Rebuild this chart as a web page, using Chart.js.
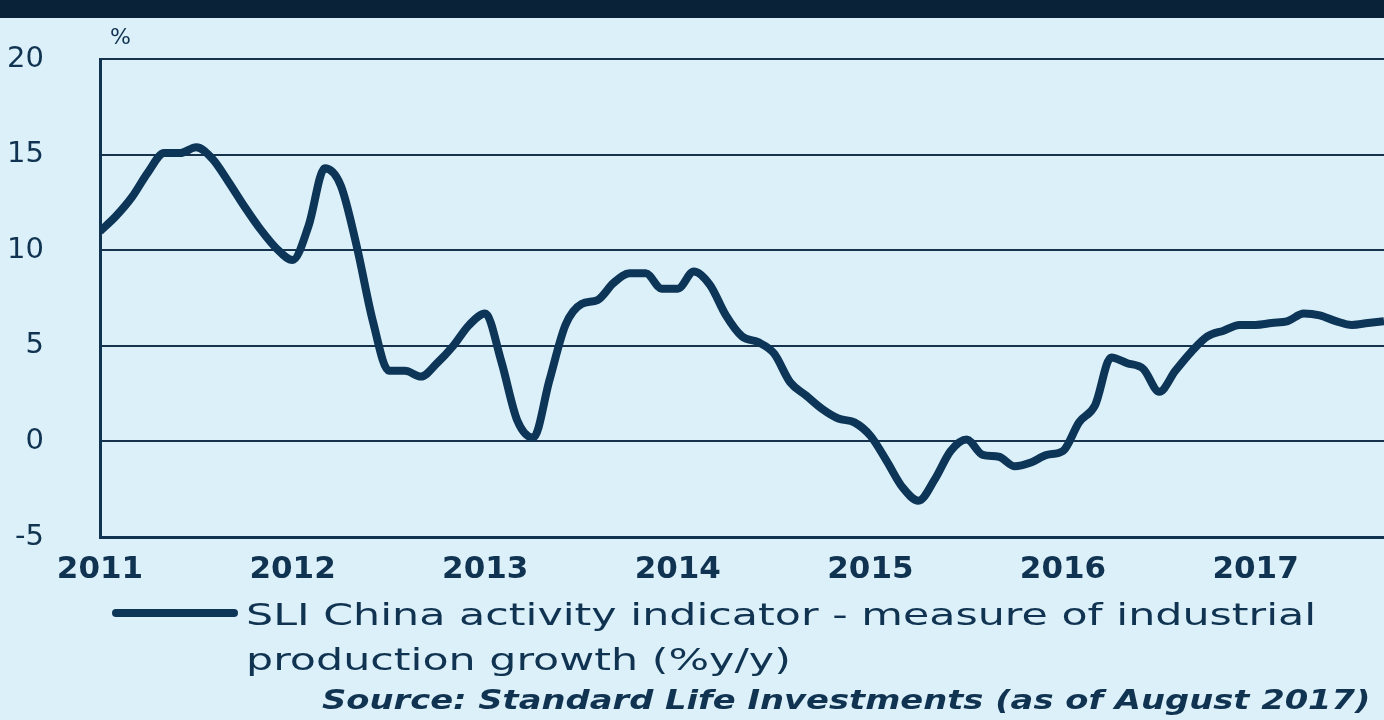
<!DOCTYPE html>
<html><head><meta charset="utf-8">
<script src="https://cdn.jsdelivr.net/npm/chart.js@4"></script>
<style>
body{margin:0;width:1384px;height:720px;overflow:hidden;background:#dcf0f9;font-family:"DejaVu Sans",Arial,sans-serif;position:relative}
#band{position:absolute;left:0;top:0;width:1384px;height:18px;background:#0a2238}
#wrap{position:absolute;left:0;top:-14px;width:1384px;height:734px}
.t{position:absolute;color:#0f3350;transform-origin:0 0;white-space:nowrap}
</style></head><body>
<div id="wrap"><canvas id="c" width="1384" height="734"></canvas></div>
<div id="band"></div>
<div class="t" style="left:110px;top:24px;font-size:22px">%</div>
<div style="position:absolute;left:112px;top:609px;width:126px;height:8px;background:#0d3557;border-radius:4px"></div>
<div class="t" style="left:246px;top:592px;font-size:31px;line-height:45px;transform:scaleX(1.38)">SLI China activity indicator - measure of industrial<br>production growth (%y/y)</div>
<div class="t" style="left:322px;top:684px;font-size:27px;font-style:italic;font-weight:bold;transform:scaleX(1.25)">Source: Standard Life Investments (as of August 2017)</div>
<script>
const yearLabels=['2011','2012','2013','2014','2015','2016','2017'];
const values=[11.0,11.8,12.8,14.1,15.1,15.1,15.4,14.8,13.6,12.3,11.1,10.1,9.5,11.3,14.3,13.4,10.2,6.3,3.7,3.7,3.4,4.1,5.0,6.1,6.7,4.2,1.1,0.2,3.2,6.1,7.2,7.4,8.3,8.8,8.8,8.0,8.0,8.9,8.2,6.6,5.5,5.2,4.6,3.1,2.4,1.7,1.2,1.0,0.3,-1.0,-2.4,-3.1,-2.0,-0.5,0.1,-0.7,-0.8,-1.3,-1.1,-0.7,-0.5,1.0,1.9,4.4,4.1,3.8,2.6,3.7,4.7,5.5,5.8,6.1,6.1,6.2,6.3,6.7,6.6,6.3,6.1,6.2,6.3];
const yTicks=[-5,0,5,10,15,20];
const pts=values.map((v,i)=>({x:i,y:v}));
const dark='#0f3350';
new Chart(document.getElementById('c'),{
 type:'line',
 data:{datasets:[{data:pts,borderColor:'#0d3557',borderWidth:8,pointRadius:0,tension:0.35,cubicInterpolationMode:'monotone'}]},
 options:{responsive:false,animation:false,
  layout:{padding:{top:30,right:0,left:0,bottom:0}},
  plugins:{legend:{display:false},tooltip:{enabled:false}},
  scales:{
   x:{type:'linear',min:0,max:80,
      afterBuildTicks:s=>{s.ticks=yearLabels.map((l,i)=>({value:i*12}));},
      afterFit:s=>{s.height=183;},
      ticks:{autoSkip:false,maxRotation:0,padding:14,color:dark,font:{size:31,family:'DejaVu Sans',weight:'bold'},callback:v=>yearLabels[v/12]},
      grid:{display:false,drawTicks:false},border:{display:true,color:dark,width:3}},
   y:{min:-5,max:20,
      afterBuildTicks:s=>{s.ticks=yTicks.map(v=>({value:v}));},
      afterFit:s=>{s.width=100;},
      ticks:{padding:56,color:dark,font:{size:29,family:'DejaVu Sans'}},
      grid:{color:ctx=>ctx.tick.value===-5?'rgba(0,0,0,0)':'#17324d',lineWidth:2,drawTicks:false},
      border:{display:true,color:dark,width:3}}
  }}
});
</script></body></html>
